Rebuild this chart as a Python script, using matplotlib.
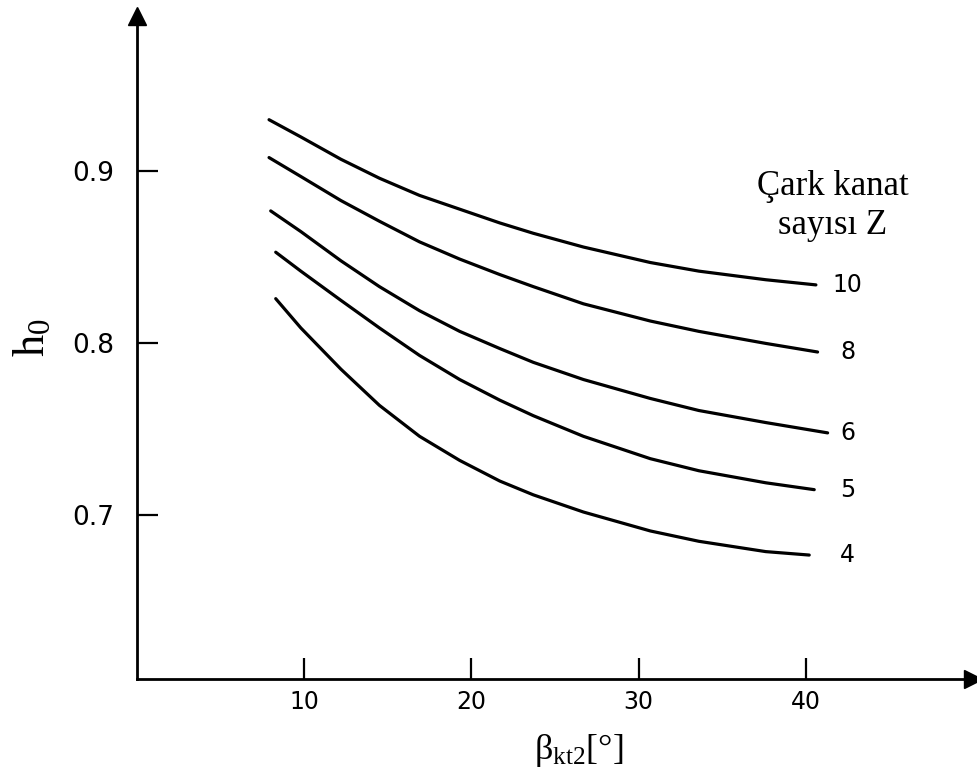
import matplotlib
matplotlib.use("Agg")
import matplotlib.pyplot as plt

plt.rcParams["mathtext.fontset"] = "custom"
plt.rcParams["mathtext.rm"] = "Liberation Serif"
plt.rcParams["mathtext.it"] = "Liberation Serif:italic"

# Blade angle beta_kt2 [deg] and h0, one curve per blade count Z
z_labels = ["10", "8", "6", "5", "4"]
beta_z10 = [7.9, 9.8, 12.2, 14.5, 16.9, 19.3, 21.7, 23.7, 26.7, 30.7, 33.6, 37.6, 40.6]
h0_z10 = [0.930, 0.920, 0.907, 0.896, 0.886, 0.878, 0.870, 0.864, 0.856, 0.847, 0.842, 0.837, 0.834]
beta_z8 = [7.9, 9.8, 12.2, 14.5, 16.9, 19.3, 21.7, 23.7, 26.7, 30.7, 33.6, 37.6, 40.7]
h0_z8 = [0.908, 0.897, 0.883, 0.871, 0.859, 0.849, 0.840, 0.833, 0.823, 0.813, 0.807, 0.800, 0.795]
beta_z6 = [8.0, 9.8, 12.2, 14.5, 16.9, 19.3, 21.7, 23.7, 26.7, 30.7, 33.6, 37.6, 41.3]
h0_z6 = [0.877, 0.865, 0.848, 0.833, 0.819, 0.807, 0.797, 0.789, 0.779, 0.768, 0.761, 0.754, 0.748]
beta_z5 = [8.3, 9.8, 12.2, 14.5, 16.9, 19.3, 21.7, 23.7, 26.7, 30.7, 33.6, 37.6, 40.5]
h0_z5 = [0.853, 0.842, 0.825, 0.809, 0.793, 0.779, 0.767, 0.758, 0.746, 0.733, 0.726, 0.719, 0.715]
beta_z4 = [8.3, 9.8, 12.2, 14.5, 16.9, 19.3, 21.7, 23.7, 26.7, 30.7, 33.6, 37.6, 40.2]
h0_z4 = [0.826, 0.809, 0.785, 0.764, 0.746, 0.732, 0.720, 0.712, 0.702, 0.691, 0.685, 0.679, 0.677]

x_ticks = [10, 20, 30, 40]
y_ticks = [0.7, 0.8, 0.9]
y_tick_labels = ["0.7", "0.8", "0.9"]

curves = [(beta_z10, h0_z10), (beta_z8, h0_z8), (beta_z6, h0_z6),
          (beta_z5, h0_z5), (beta_z4, h0_z4)]

fig = plt.figure(figsize=(9.78, 7.84), dpi=100)
ax = fig.add_axes([0.140, 0.134, 0.855, 0.845])

for (beta, h0), lab in zip(curves, z_labels):
    ax.plot(beta, h0, color="black", lw=2.3, solid_capstyle="round",
            solid_joinstyle="round")
    ax.text(42.5, h0[-1], lab, ha="center", va="center", fontsize=17,
            family="DejaVu Sans")

ax.text(41.6, 0.880, "Çark kanat\nsayısı Z", ha="center", va="center",
        fontsize=25, family="Liberation Serif", linespacing=1.25)

ax.set_xlim(0, 50)
ax.set_ylim(0.605, 0.990)
ax.set_xticks(x_ticks)
ax.set_yticks(y_ticks)
ax.set_yticklabels(y_tick_labels)
ax.tick_params(direction="in", length=15, width=1.6, labelsize=17)
ax.tick_params(axis="x", pad=8)
ax.tick_params(axis="y", pad=16, labelsize=19)

for side in ["top", "right"]:
    ax.spines[side].set_visible(False)
for side in ["left", "bottom"]:
    ax.spines[side].set_linewidth(2)

# arrow heads on both axes
ax.plot(1, 0, ">", color="black", ms=13, transform=ax.transAxes, clip_on=False)
ax.plot(0, 1, "^", color="black", ms=13, transform=ax.transAxes, clip_on=False)

ax.set_xlabel(r"$\mathrm{\beta_{kt2}}$[°]", fontsize=26, family="Liberation Serif")
ax.xaxis.set_label_coords(0.528, -0.08)
ax.set_ylabel(r"$\mathrm{h_0}$", fontsize=32)
ax.yaxis.set_label_coords(-0.10, 0.515)

fig.savefig("out.png", dpi=100)
